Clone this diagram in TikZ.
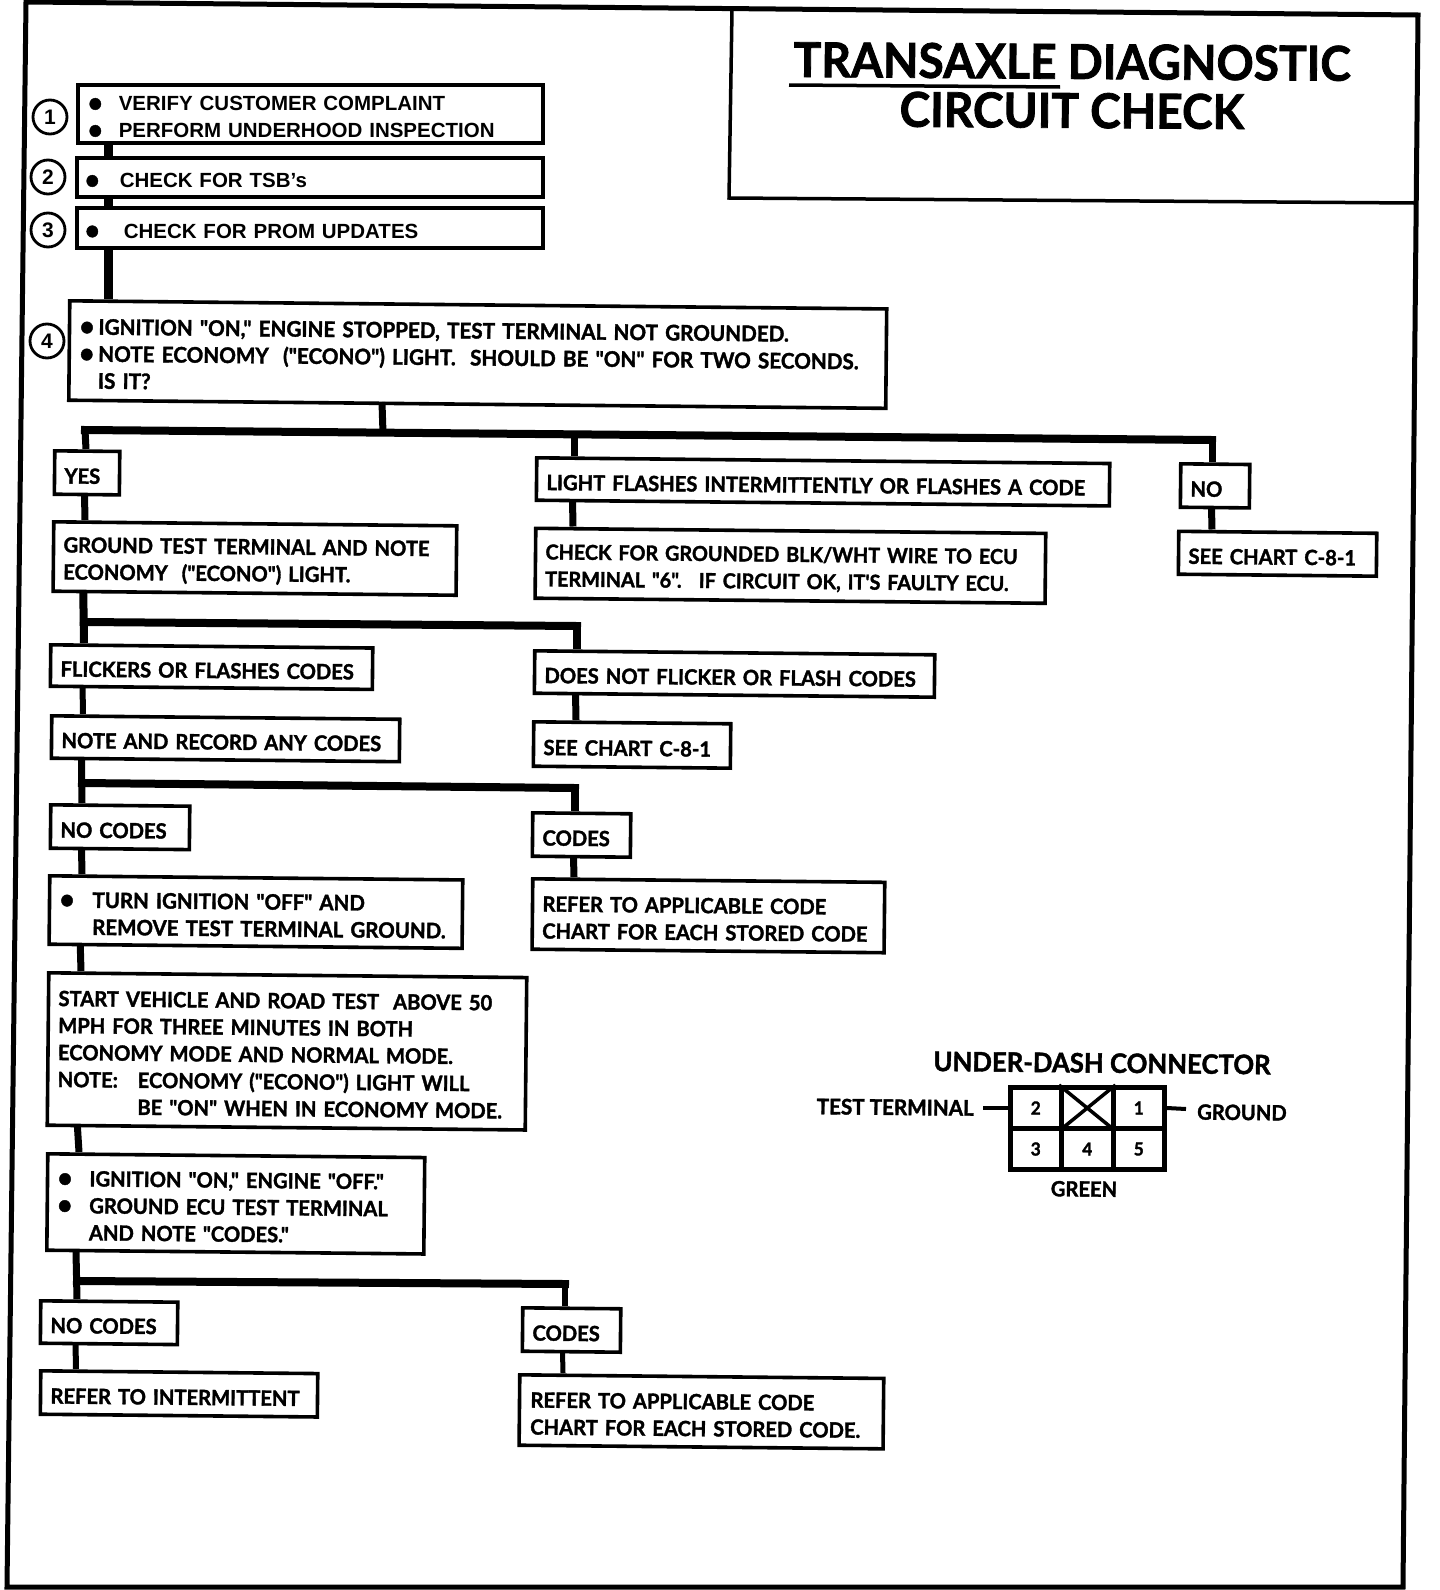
\documentclass[tikz,border=0pt]{standalone}
\usepackage{fontspec}
\setmainfont{Liberation Sans}
\newfontfamily\chartfont[BoldFeatures={FakeBold=1.6,FakeStretch=.96}]{Lato}

\newcommand{\bul}[1]{\makebox[#1pt][l]{\fontsize{27}{27}\selectfont\chartfont\bfseries\raisebox{-1pt}{\textbullet}}}
\newcommand{\sz}[1]{\fontsize{#1}{27}\selectfont\chartfont\bfseries}

\tikzset{
	box/.style 2 args={draw, line width=3.6pt, anchor=north west, align=left, rotate=-.57,
		minimum width=#1pt-3.6pt, minimum height=#2pt-3.6pt, text width=#1pt-23pt,
		inner xsep=10pt, inner ysep=0pt, font=\sz{21},
		execute at begin node={\rule{0pt}{22pt}}},
	flat/.style={rotate=.57, font=\fontsize{20.5}{27}\selectfont\bfseries, execute at begin node={}},
	num/.style={draw, circle, line width=2.8pt, minimum size=34pt, inner sep=0pt, font=\fontsize{21}{21}\selectfont\bfseries},
	pin/.style={draw, line width=5pt, minimum width=51.5pt, minimum height=41pt, inner sep=0pt, font=\fontsize{18}{18}\selectfont\chartfont\bfseries},
	tag/.style={rotate=-.57, inner sep=0pt, font=\sz{21}},
	wire/.style={line width=#1pt},
	wire/.default=7,
	trunk/.style={line width=8pt, line cap=rect}
}

\begin{document}
\begin{tikzpicture}[x=1pt,y=-1pt]
	\useasboundingbox (0,0) rectangle (1440,1590);

	% Marco
	\draw[line width=5pt] (26,2) -- (1418,15) -- (1403,1587) -- (7,1587) -- cycle;
	\draw[line width=3.5pt] (732,10) -- (729,198) -- (1414,203);

	% Titulo
	\node[align=center, rotate=-.4, inner sep=0pt, font=\fontsize{48}{49}\selectfont\chartfont\bfseries] (title) at (1072,86) {TRANSAXLE DIAGNOSTIC\\CIRCUIT CHECK};
	\draw[line width=3.5pt] (789,85) -- (1060,87);

	% Cajas de inicio
	\node[box={468}{62}, flat] (q1) at (76,83) {\bul{31}VERIFY CUSTOMER COMPLAINT\\\bul{31}PERFORM UNDERHOOD INSPECTION};
	\node[box={469}{43}, flat] (q2) at (75,156) {\hspace*{-2pt}\bul{35}CHECK FOR TSB's};
	\node[box={469}{44}, flat] (q3) at (75,206) {\hspace*{-2pt}\bul{39}CHECK FOR PROM UPDATES};
	\node[num] (c1) at (50,117) {1};
	\node[num] (c2) at (48,177) {2};
	\node[num] (c3) at (48,230) {3};
	\node[num] (c4) at (47,341) {4};
	\node[box={820}{103}, font=\sz{21.5}] (q4) at (68,299) {\bul{19}IGNITION "ON," ENGINE STOPPED, TEST TERMINAL NOT GROUNDED.\\\bul{19}NOTE ECONOMY ~("ECONO") LIGHT. ~SHOULD BE "ON" FOR TWO SECONDS.\\\hspace*{19pt}IS IT?};

	% Primera rama
	\node[box={68}{47}] (yes) at (53,449) {YES};
	\node[box={406}{73}] (ground) at (52,520) {GROUND TEST TERMINAL AND NOTE\\ECONOMY ~("ECONO") LIGHT.};
	\node[box={576}{46}] (light) at (535,456) {LIGHT FLASHES INTERMITTENTLY OR FLASHES A CODE};
	\node[box={513}{73.5}, font=\sz{20.6}] (check) at (534,526.5) {CHECK FOR GROUNDED BLK/WHT WIRE TO ECU\\TERMINAL "6". ~IF CIRCUIT OK, IT'S FAULTY ECU.};
	\node[box={72}{47}] (no) at (1179,462) {NO};
	\node[box={201}{46.5}] (see) at (1177,529.5) {SEE CHART C-8-1};

	% Segunda rama
	\node[box={325}{45}] (flick) at (49,643) {FLICKERS OR FLASHES CODES};
	\node[box={351}{46}] (record) at (50,714) {NOTE AND RECORD ANY CODES};
	\node[box={403}{46}] (noflick) at (533,649) {DOES NOT FLICKER OR FLASH CODES};
	\node[box={200}{48}] (seeb) at (532,720) {SEE CHART C-8-1};

	% Tercera rama
	\node[box={142}{47}] (nocodes) at (49,803) {NO CODES};
	\node[box={416}{72}, font=\sz{21.3}] (turn) at (48,874) {\bul{33}TURN IGNITION "OFF" AND\\\hspace*{33pt}REMOVE TEST TERMINAL GROUND.};
	\node[box={481}{156}] (start) at (47,971) {START VEHICLE AND ROAD TEST ~ABOVE 50\\MPH FOR THREE MINUTES IN BOTH\\ECONOMY MODE AND NORMAL MODE.\\\makebox[80pt][l]{NOTE:}ECONOMY ("ECONO") LIGHT WILL\\\hspace*{80pt}BE "ON" WHEN IN ECONOMY MODE.};
	\node[box={380}{100}] (ignit) at (46,1152) {\bul{32}IGNITION "ON," ENGINE "OFF."\\\bul{32}GROUND ECU TEST TERMINAL\\\hspace*{32pt}AND NOTE "CODES."};
	\node[box={101}{47}] (codes) at (531,811) {CODES};
	\node[box={355}{74}] (refer) at (531,877) {REFER TO APPLICABLE CODE\\CHART FOR EACH STORED CODE};

	% Ultima rama
	\node[box={140}{46}] (nocodesb) at (39,1299) {NO CODES};
	\node[box={280}{47}] (interm) at (39,1369) {REFER TO INTERMITTENT};
	\node[box={101}{47}] (codesb) at (521,1306) {CODES};
	\node[box={367}{74}] (referb) at (518,1373) {\hspace*{1pt}REFER TO APPLICABLE CODE\\\hspace*{1pt}CHART FOR EACH STORED CODE.};

	% Conector
	\node[tag, font=\sz{26.8}] (dash) at (1102,1063) {UNDER-DASH CONNECTOR};
	\foreach \pin/\x/\y/\t in {ptwo/1035.75/1108/2, px/1087.25/1108/{}, pone/1138.75/1108/1, pthree/1035.75/1149/3, pfour/1087.25/1149/4, pfive/1138.75/1149/5} {
		\node[pin] (\pin) at (\x,\y) {\t};
	}
	\draw[line width=3.5pt] (px.north west) -- (px.south east);
	\draw[line width=3.5pt] (px.north east) -- (px.south west);
	\node[tag, anchor=east, font=\sz{21.5}] (testterm) at (974,1108) {TEST TERMINAL};
	\node[tag, anchor=west] (groundl) at (1197,1112) {GROUND};
	\node[tag] (green) at (1084,1189) {GREEN};
	\coordinate (leftend) at (983,1108);
	\coordinate (rightend) at (1186,1109);
	\draw[wire=4] (leftend) -- (ptwo.west);
	\draw[wire=4] (pone.east) -- (rightend);

	% Uniones
	\coordinate (ta) at (85,430);
	\coordinate (tb) at (383,433);
	\coordinate (tc) at (574,435);
	\coordinate (td) at (1212,440);
	\coordinate (tga) at (84,622);
	\coordinate (tgb) at (577,626);
	\coordinate (tra) at (82,783);
	\coordinate (trb) at (575,788);
	\coordinate (tia) at (77,1281);
	\coordinate (tib) at (565,1284);

	% Lineas
	\draw[wire=9] ([xshift=32pt]q1.south west) -- ([xshift=33pt]q2.north west);
	\draw[wire=9] ([xshift=33pt]q2.south west) -- ([xshift=33pt]q3.north west);
	\draw[wire=9] ([xshift=33pt]q3.south west) -- ([xshift=40pt]q4.north west);
	\draw[wire] ([xshift=315pt]q4.south west) -- (tb);
	\draw[trunk] (ta) -- (td);
	\draw[wire] (ta) -- ([xshift=33pt]yes.north west);
	\draw[wire] (tc) -- ([xshift=39pt]light.north west);
	\draw[wire] (td) -- ([xshift=33pt]no.north west);
	\draw[wire] ([xshift=32pt]yes.south west) -- ([xshift=33pt]ground.north west);
	\draw[wire] ([xshift=38pt]light.south west) -- ([xshift=39pt]check.north west);
	\draw[wire] ([xshift=33pt]no.south west) -- ([xshift=35pt]see.north west);
	\draw[wire=8] ([xshift=32pt]ground.south west) -- ([xshift=35pt]flick.north west);
	\draw[trunk] (tga) -- (tgb);
	\draw[wire=8] (tgb) -- ([xshift=44pt]noflick.north west);
	\draw[wire] ([xshift=43pt]noflick.south west) -- ([xshift=44pt]seeb.north west);
	\draw[wire=6] ([xshift=34pt]flick.south west) -- ([xshift=33pt]record.north west);
	\draw[wire] ([xshift=32pt]record.south west) -- ([xshift=33pt]nocodes.north west);
	\draw[trunk] (tra) -- (trb);
	\draw[wire=8] (trb) -- ([xshift=44pt]codes.north west);
	\draw[wire] ([xshift=43pt]codes.south west) -- ([xshift=43pt]refer.north west);
	\draw[wire] ([xshift=33pt]nocodes.south west) -- ([xshift=34pt]turn.north west);
	\draw[wire] ([xshift=33pt]turn.south west) -- ([xshift=34pt]start.north west);
	\draw[wire] ([xshift=32pt]start.south west) -- ([xshift=33pt]ignit.north west);
	\draw[wire] ([xshift=31pt]ignit.south west) -- ([xshift=38pt]nocodesb.north west);
	\draw[trunk] (tia) -- (tib);
	\draw[wire=6] (tib) -- ([xshift=44pt]codesb.north west);
	\draw[wire=5] ([xshift=42pt]codesb.south west) -- ([xshift=45pt]referb.north west);
	\draw[wire=6] ([xshift=37pt]nocodesb.south west) -- ([xshift=37pt]interm.north west);
\end{tikzpicture}
\end{document}
